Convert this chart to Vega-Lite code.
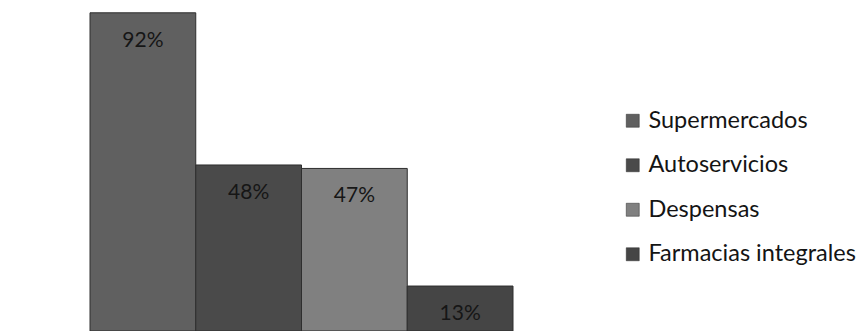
{
  "$schema": "https://vega.github.io/schema/vega-lite/v6.json",
  "width": 423,
  "height": 331,
  "padding": {"left": 89, "top": 0, "right": 0, "bottom": 0},
  "background": "white",
  "data": {"values": [
    {"cat": "Supermercados", "val": 92, "label": "92%"},
    {"cat": "Autoservicios", "val": 48, "label": "48%"},
    {"cat": "Despensas", "val": 47, "label": "47%"},
    {"cat": "Farmacias integrales", "val": 13, "label": "13%"}
  ]},
  "config": {"view": {"stroke": null}},
  "encoding": {
    "x": {"field": "cat", "type": "nominal", "sort": null, "axis": null,
          "scale": {"paddingInner": 0, "paddingOuter": 0}},
    "y": {"field": "val", "type": "quantitative", "axis": null,
          "scale": {"domain": [0, 95.7], "nice": false}}
  },
  "layer": [
    {
      "mark": {"type": "bar", "stroke": "#2e2e2e", "strokeWidth": 1},
      "encoding": {
        "color": {"field": "cat", "type": "nominal", "sort": null,
          "scale": {"domain": ["Supermercados", "Autoservicios", "Despensas", "Farmacias integrales"],
                    "range": ["#606060", "#4a4a4a", "#808080", "#454545"]},
          "legend": {"title": null, "orient": "none", "legendX": 531, "legendY": 109,
                     "symbolType": "square", "symbolSize": 169, "symbolStrokeColor": "#2a2a2a", "symbolStrokeWidth": 0.5,
                     "labelFont": "Lato", "labelFontSize": 23.5, "labelColor": "#141414", "labelLimit": 400,
                     "rowPadding": 19.5, "labelOffset": 4}}
      }
    },
    {
      "mark": {"type": "text", "baseline": "middle", "dy": 28, "font": "Lato", "fontSize": 21, "color": "#161616"},
      "encoding": {"text": {"field": "label"}}
    }
  ]
}
